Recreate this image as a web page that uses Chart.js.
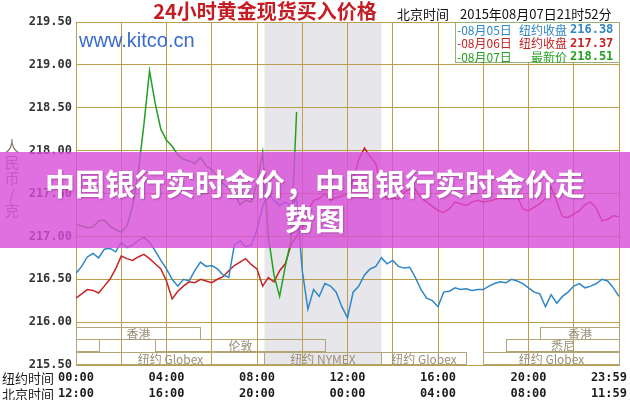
<!DOCTYPE html>
<html>
<head>
<meta charset="utf-8">
<script src="https://cdn.jsdelivr.net/npm/chart.js@4.4.1/dist/chart.umd.min.js"></script>
<style>
  body { margin: 0; background: #fff; }
  #wrap { position: relative; width: 630px; height: 400px; }
  #banner {
    position: absolute; left: 0; top: 152px; width: 630px; height: 96px;
    box-sizing: border-box; padding: 13px 35px 0;
    background: rgba(216, 76, 216, 0.8);
    color: #fff; text-align: center;
    font: bold 30px/35px "Noto Sans CJK SC", sans-serif;
    text-shadow: 1px 1px 2px rgba(80, 0, 80, 0.35);
  }
</style>
</head>
<body>
<div id="wrap">
  <canvas id="gold-chart" width="630" height="400"></canvas>
  <div id="banner">中国银行实时金价，中国银行实时金价走势图</div>
</div>
<script>
// New York time, in hours, every 15 minutes
const hours = [0,0.25,0.5,0.75,1,1.25,1.5,1.75,2,2.25,2.5,2.75,3,3.25,3.5,3.75,4,4.25,4.5,4.75,
    5,5.25,5.5,5.75,6,6.25,6.5,6.75,7,7.25,7.5,7.75,8,8.25,8.5,8.75,9,9.25,9.5,9.75,
    10,10.25,10.5,10.75,11,11.25,11.5,11.75,12,12.25,12.5,12.75,13,13.25,13.5,13.75,14,14.25,14.5,14.75,
    15,15.25,15.5,15.75,16,16.25,16.5,16.75,17,17.25,17.5,17.75,18,18.25,18.5,18.75,19,19.25,19.5,19.75,
    20,20.25,20.5,20.75,21,21.25,21.5,21.75,22,22.25,22.5,22.75,23,23.25,23.5,23.75,24];

// 元/克
const aug05 = [216.57,216.65,216.76,216.80,216.75,216.85,216.86,216.82,216.93,216.87,
    216.90,216.95,216.99,216.93,216.83,216.72,216.62,216.50,216.42,216.50,
    216.48,216.60,216.70,216.65,216.66,216.62,216.55,216.52,216.90,216.95,
    216.88,216.90,217.08,217.35,217.50,217.42,217.36,217.40,217.36,217.43,
    216.60,216.15,216.38,216.30,216.45,216.42,216.35,216.18,216.05,216.35,
    216.42,216.55,216.62,216.65,216.75,216.68,216.72,216.65,216.63,216.64,
    216.52,216.38,216.28,216.25,216.18,216.35,216.36,216.40,216.38,216.39,
    216.37,216.38,216.38,216.42,216.45,216.47,216.46,216.50,216.48,216.45,
    216.40,216.35,216.33,216.18,216.32,216.22,216.30,216.35,216.42,216.45,
    216.40,216.42,216.45,216.50,216.48,216.40,216.30];

const aug06 = [216.28,216.33,216.38,216.37,216.34,216.42,216.50,216.62,216.77,216.74,
    216.72,216.76,216.79,216.74,216.68,216.62,216.48,216.27,216.36,216.42,
    216.47,216.46,216.50,216.48,216.46,216.50,216.53,216.60,216.66,216.70,
    216.74,216.67,216.62,216.42,216.52,216.47,216.60,216.68,216.90,217.00,
    217.10,217.30,217.42,217.44,217.50,217.42,217.45,217.47,217.50,217.66,
    217.90,218.03,217.93,217.85,217.55,217.43,217.45,217.43,217.51,217.55,
    217.55,217.45,217.40,217.35,217.30,217.28,217.32,217.40,217.38,217.36,
    217.40,217.42,217.40,217.41,217.43,217.45,217.44,217.45,217.47,217.32,
    217.30,217.34,217.38,217.44,217.58,217.40,217.23,217.22,217.26,217.30,
    217.37,217.40,217.33,217.18,217.20,217.24,217.23];

const aug07 = [217.14,217.12,217.10,217.11,217.18,217.19,217.12,217.08,217.05,217.12,
    217.35,217.75,218.30,218.93,218.55,218.25,218.12,218.05,217.95,217.90,
    217.88,217.85,217.92,217.82,217.78,217.70,217.62,217.55,217.50,217.37,
    217.42,217.40,217.62,217.98,217.00,216.55,216.30,216.65,216.95,218.45];

const legendDates = ['-08月05日', '-08月06日', '-08月07日'];
const legendNames = ['纽约收盘', '纽约收盘', '最新价'];
const legendPrices = ['216.38', '217.37', '218.51'];

const labelHours = [0, 4, 8, 12, 16, 20, 24];
const nyLabels = ['00:00', '04:00', '08:00', '12:00', '16:00', '20:00', '23:59'];
const bjLabels = ['12:00', '16:00', '20:00', '00:00', '04:00', '08:00', '11:59'];

const nymexHours = [8.33, 13.5];

// trading sessions shown in the three rows at the bottom
const sessionNames = ['香港', '香港', '', '伦敦', '悉尼', '纽约 Globex', '纽约 NYMEX', '纽约 Globex', '纽约 Globex'];
const sessionStart = [0, 20.5, 0, 3.5, 19, 0, 8.33, 13.5, 18];
const sessionEnd = [5.5, 24, 1, 11, 24, 8.33, 13.5, 17.25, 24];
const sessionRow = [0, 0, 1, 1, 1, 2, 2, 2, 2];
const rowTop = [215.94, 215.80, 215.65];
const rowHeight = 0.135;

const seriesColors = ['#2f86c8', '#c42424', '#23a023'];
const gridColor = '#bb9f4c';
const cjk = '"Noto Sans CJK SC", sans-serif';

function toPoints(values) {
    return values.map((v, i) => ({x: hours[i], y: v}));
}

const kitcoDecor = {
    id: 'kitcoDecor',
    beforeDraw(chart) {
        let ctx = chart.ctx, area = chart.chartArea, x = chart.scales.x;
        ctx.save();
        ctx.fillStyle = '#fff';
        ctx.fillRect(0, 0, chart.width, chart.height);
        // NYMEX hours
        ctx.fillStyle = '#e7e7eb';
        let x0 = x.getPixelForValue(nymexHours[0]), x1 = x.getPixelForValue(nymexHours[1]);
        ctx.fillRect(x0, area.top, x1 - x0, area.bottom - area.top);
        ctx.restore();
    },
    beforeDatasetsDraw(chart) {
        let ctx = chart.ctx, x = chart.scales.x, y = chart.scales.y;
        ctx.save();
        ctx.strokeStyle = '#b3a676';
        ctx.lineWidth = 1;
        ctx.font = '12px ' + cjk;
        ctx.fillStyle = '#9a8f78';
        ctx.textAlign = 'center';
        ctx.textBaseline = 'middle';
        sessionNames.forEach((name, i) => {
            let left = Math.round(x.getPixelForValue(sessionStart[i])) + 0.5;
            let right = Math.round(x.getPixelForValue(sessionEnd[i])) + 0.5;
            let top = Math.round(y.getPixelForValue(rowTop[sessionRow[i]])) + 0.5;
            let bottom = Math.round(y.getPixelForValue(rowTop[sessionRow[i]] - rowHeight)) + 0.5;
            ctx.strokeRect(left, top, right - left, bottom - top);
            if (name)
                ctx.fillText(name, (left + right) / 2, (top + bottom) / 2 + 1);
        });
        ctx.restore();
    },
    afterDraw(chart) {
        let ctx = chart.ctx, x = chart.scales.x;
        ctx.save();

        // title row
        ctx.textBaseline = 'middle';
        ctx.textAlign = 'center';
        ctx.fillStyle = '#c41e24';
        ctx.font = 'bold 20px ' + cjk;
        ctx.fillText('24小时黄金现货买入价格', 265, 11);
        ctx.textAlign = 'left';
        ctx.fillStyle = '#111';
        ctx.font = '13px ' + cjk;
        ctx.fillText('北京时间', 397, 14);
        ctx.fillText('2015年08月07日21时52分', 460, 14);

        ctx.fillStyle = '#3a6bd0';
        ctx.font = '20px "Liberation Sans", Arial, sans-serif';
        ctx.fillText('www.kitco.cn', 79, 41);

        // legend box
        ctx.fillStyle = '#fff';
        ctx.fillRect(455.5, 22.5, 164, 40);
        ctx.strokeStyle = '#98b070';
        ctx.strokeRect(455.5, 22.5, 164, 40);
        legendDates.forEach((d, i) => {
            let ty = 30 + i * 13.5;
            ctx.fillStyle = seriesColors[i];
            ctx.textAlign = 'left';
            ctx.font = '12px ' + cjk;
            ctx.fillText(d, 457, ty);
            ctx.textAlign = 'right';
            ctx.fillText(legendNames[i], 567, ty);
            ctx.textAlign = 'left';
            ctx.font = 'bold 12px "DejaVu Sans Mono", monospace';
            ctx.fillText(legendPrices[i], 570, ty);
        });

        // y axis unit
        ctx.fillStyle = '#877a6e';
        ctx.font = '15px ' + cjk;
        ctx.textAlign = 'center';
        Array.from('人民币/克').forEach((c, i) => ctx.fillText(c, 12, 146 + i * 16));

        // two rows of time labels
        ctx.fillStyle = '#1c1c1c';
        ctx.font = '13px ' + cjk;
        ctx.textAlign = 'left';
        ctx.fillText('纽约时间', 2, 378);
        ctx.fillText('北京时间', 2, 394);
        ctx.font = 'bold 12px "DejaVu Sans Mono", monospace';
        labelHours.forEach((h, i) => {
            let lx = x.getPixelForValue(h);
            if (i == labelHours.length - 1) {
                ctx.textAlign = 'right';
                lx += 8;
            } else
                ctx.textAlign = 'center';
            ctx.fillText(nyLabels[i], lx, 378);
            ctx.fillText(bjLabels[i], lx, 394);
        });
        ctx.restore();
    }
};

let goldChart = new Chart(document.getElementById('gold-chart'), {
    type: 'line',
    data: {
        datasets: [{
            label: '08月07日',
            data: toPoints(aug07),
            borderColor: seriesColors[2],
        }, {
            label: '08月05日',
            data: toPoints(aug05),
            borderColor: seriesColors[0],
        }, {
            label: '08月06日',
            data: toPoints(aug06),
            borderColor: seriesColors[1],
        }]
    },
    options: {
        responsive: false,
        animation: false,
        events: [],
        layout: {
            padding: {top: 22, right: 11, left: 0, bottom: 0}
        },
        elements: {
            line: { borderWidth: 1.5, tension: 0 },
            point: { radius: 0 }
        },
        scales: {
            x: {
                type: 'linear',
                min: 0,
                max: 24,
                afterFit: function(scale) { scale.height = 35; },
                ticks: { display: false, stepSize: 2 },
                grid: { color: gridColor, drawTicks: false },
                border: { color: gridColor }
            },
            y: {
                min: 215.5,
                max: 219.5,
                afterFit: function(scale) { scale.width = 76; },
                ticks: {
                    stepSize: 0.5,
                    padding: 4,
                    color: '#333',
                    font: { family: 'DejaVu Sans Mono', size: 12, weight: 'bold' },
                    callback: function(value) { return value.toFixed(2); }
                },
                grid: { color: gridColor, drawTicks: false },
                border: { color: gridColor }
            }
        },
        plugins: {
            legend: { display: false },
            tooltip: { enabled: false }
        }
    },
    plugins: [kitcoDecor]
});
</script>
</body>
</html>
